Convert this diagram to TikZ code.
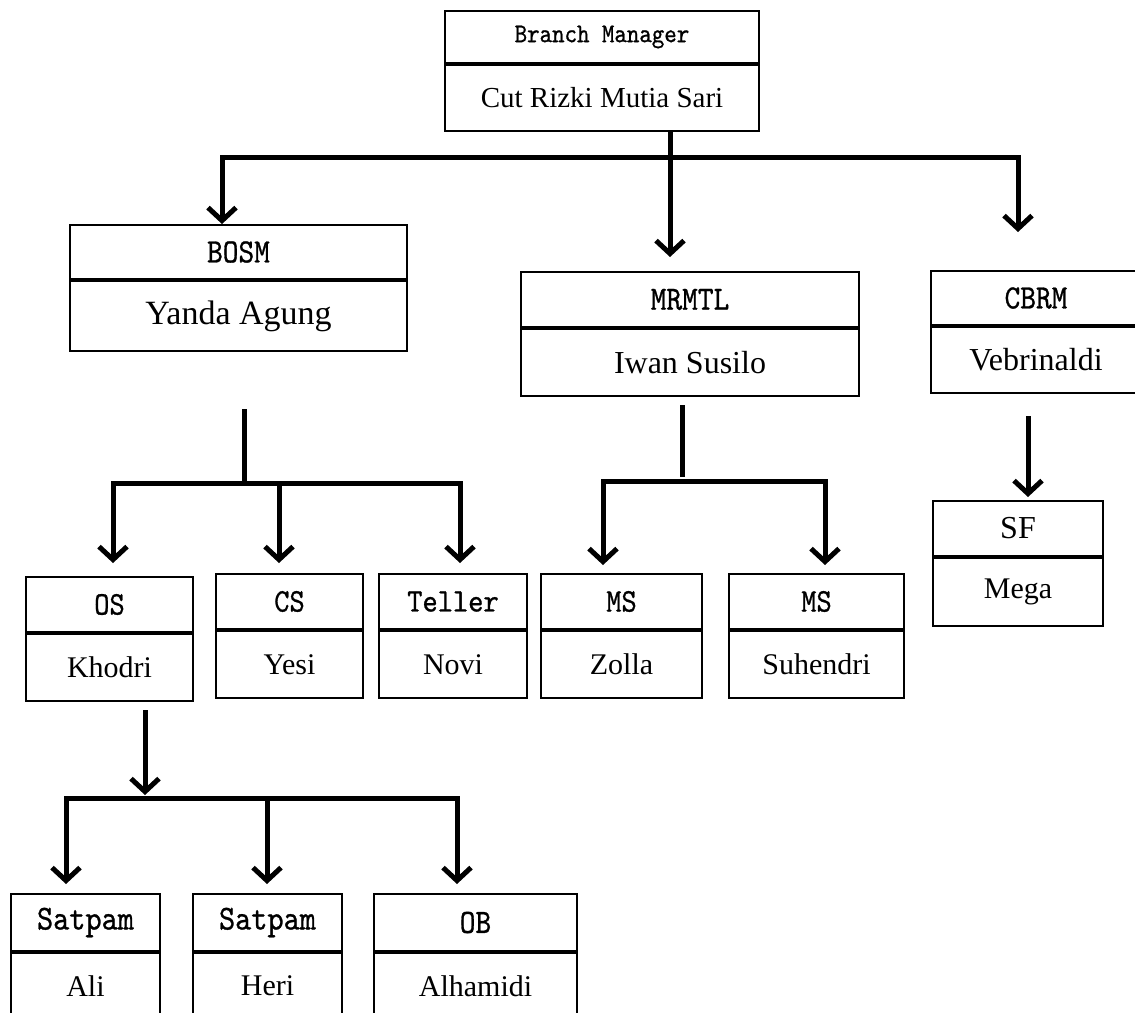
\documentclass[tikz,border=0pt]{standalone}
\usepackage{fontspec}
\setmainfont{Liberation Serif}
\newfontfamily\ttlfont[FakeStretch=0.88, FakeBold=0.8]{lmmono10-regular.otf}
\usetikzlibrary{
    arrows.meta,
    positioning,
    calc
}
\tikzset{
  ttl/.style  = {draw, line width=2pt, inner sep=0pt,
                 font=\ttlfont\fontsize{#1pt}{#1pt}\selectfont},
  ttl/.default = 30,
  nme/.style  = {draw, line width=2pt, inner sep=0pt,
                 font=\fontsize{#1pt}{#1pt}\selectfont},
  nme/.default = 30,
  ln/.style   = {line width=5pt, line cap=rect},
  arr/.style  = {line width=5pt, -{Straight Barb[length=13pt,width=28pt]}}
}

\begin{document}
\begin{tikzpicture}[x=1pt, y=-1pt]
\useasboundingbox (0,0) rectangle (1135,1012);
\clip (0,0) rectangle (1135,1012);

% branch manager
\node[ttl=27, minimum width=314pt, minimum height=52pt, anchor=north west] (bm) at (444,10) {Branch Manager};
\node[nme=29, minimum width=314pt, minimum height=66pt, below=0pt of bm] (bmn) {Cut Rizki Mutia Sari};

% second level
\node[ttl=34, minimum width=337pt, minimum height=54pt, anchor=north west] (bosm) at (69,224) {BOSM};
\node[nme=34, minimum width=337pt, minimum height=70pt, below=0pt of bosm] (bosmn) {Yanda Agung};
\node[ttl=34, minimum width=338pt, minimum height=55pt, anchor=north west] (mrmtl) at (520,271) {MRMTL};
\node[nme=32, minimum width=338pt, minimum height=67pt, below=0pt of mrmtl] (mrmtln) {Iwan Susilo};
\node[ttl=34, minimum width=210pt, minimum height=54pt, anchor=north west] (cbrm) at (930,270) {CBRM};
\node[nme=32, minimum width=210pt, minimum height=66pt, below=0pt of cbrm] (cbrmn) {Vebrinaldi};

% third level
\node[ttl=33, minimum width=167pt, minimum height=55pt, anchor=north west] (os) at (25,576) {OS};
\node[nme=30, minimum width=167pt, minimum height=67pt, below=0pt of os] (osn) {Khodri};
\node[ttl=33, minimum width=147pt, minimum height=55pt, anchor=north west] (cs) at (215,573) {CS};
\node[nme=30, minimum width=147pt, minimum height=67pt, below=0pt of cs] (csn) {Yesi};
\node[ttl=33, minimum width=148pt, minimum height=55pt, anchor=north west] (tel) at (378,573) {Teller};
\node[nme=30, minimum width=148pt, minimum height=67pt, below=0pt of tel] (teln) {Novi};
\node[ttl=33, minimum width=161pt, minimum height=55pt, anchor=north west] (msa) at (540,573) {MS};
\node[nme=30, minimum width=161pt, minimum height=67pt, below=0pt of msa] (msan) {Zolla};
\node[ttl=33, minimum width=175pt, minimum height=55pt, anchor=north west] (msb) at (728,573) {MS};
\node[nme=30, minimum width=175pt, minimum height=67pt, below=0pt of msb] (msbn) {Suhendri};
\node[nme=32, minimum width=170pt, minimum height=55pt, anchor=north west] (sf) at (932,500) {SF};
\node[nme=30, minimum width=170pt, minimum height=68pt, below=0pt of sf] (sfn) {Mega};

% fourth level
\node[ttl=35, minimum width=149pt, minimum height=57pt, anchor=north west] (sta) at (10,893) {Satpam};
\node[nme=30, minimum width=149pt, minimum height=66pt, below=0pt of sta] (stan) {Ali};
\node[ttl=35, minimum width=149pt, minimum height=57pt, anchor=north west] (stb) at (192,893) {Satpam};
\node[nme=30, minimum width=149pt, minimum height=66pt, below=0pt of stb] (stbn) {Heri};
\node[ttl=34, minimum width=203pt, minimum height=57pt, anchor=north west] (ob) at (373,893) {OB};
\node[nme=30, minimum width=203pt, minimum height=66pt, below=0pt of ob] (obn) {Alhamidi};

% connectors from the branch manager
\coordinate (tr) at (670,157);
\coordinate (trL) at (222,157);
\coordinate (trR) at (1018,157);
\draw[ln] (bmn.south -| tr) -- (tr);
\draw[ln] (trL) -- (trR);
\draw[arr] (trL) -- (bosm.north -| trL);
\draw[arr, shorten >=14pt] (tr) -- (tr |- mrmtl.north);
\draw[arr, shorten >=38pt] (trR) -- (trR |- cbrm.north);

% connectors below BOSM
\coordinate (bs) at (244,411);
\coordinate (bsL) at (113,483);
\coordinate (bsM) at (279,483);
\coordinate (bsR) at (460,483);
\draw[ln] (bs) -- (bs |- bsL);
\draw[ln] (bsL) -- (bsR);
\draw[arr, shorten >=13pt] (bsL) -- (os.north -| bsL);
\draw[arr, shorten >=10pt] (bsM) -- (cs.north -| bsM);
\draw[arr, shorten >=10pt] (bsR) -- (tel.north -| bsR);

% connectors below MRMTL
\coordinate (ms) at (682,407);
\coordinate (msL) at (603,481);
\coordinate (msR) at (825,481);
\draw[ln] (ms) -- (682,474);
\draw[ln] (msL) -- (msR);
\draw[arr, shorten >=8pt] (msL) -- (msa.north -| msL);
\draw[arr, shorten >=8pt] (msR) -- (msb.north -| msR);

% connector below CBRM
\coordinate (cb) at (1028,416);
\draw[arr, shorten >=3pt] (cb) -- (sf.north -| cb);

% connectors below OS
\coordinate (ob0) at (145,710);
\coordinate (obL) at (66,798);
\coordinate (obM) at (267,798);
\coordinate (obR) at (457,798);
\draw[arr, shorten >=3pt] (ob0) -- (ob0 |- obL);
\draw[ln] (obL) -- (obR);
\draw[arr, shorten >=9pt] (obL) -- (sta.north -| obL);
\draw[arr, shorten >=9pt] (obM) -- (stb.north -| obM);
\draw[arr, shorten >=9pt] (obR) -- (ob.north -| obR);
\end{tikzpicture}
\end{document}
